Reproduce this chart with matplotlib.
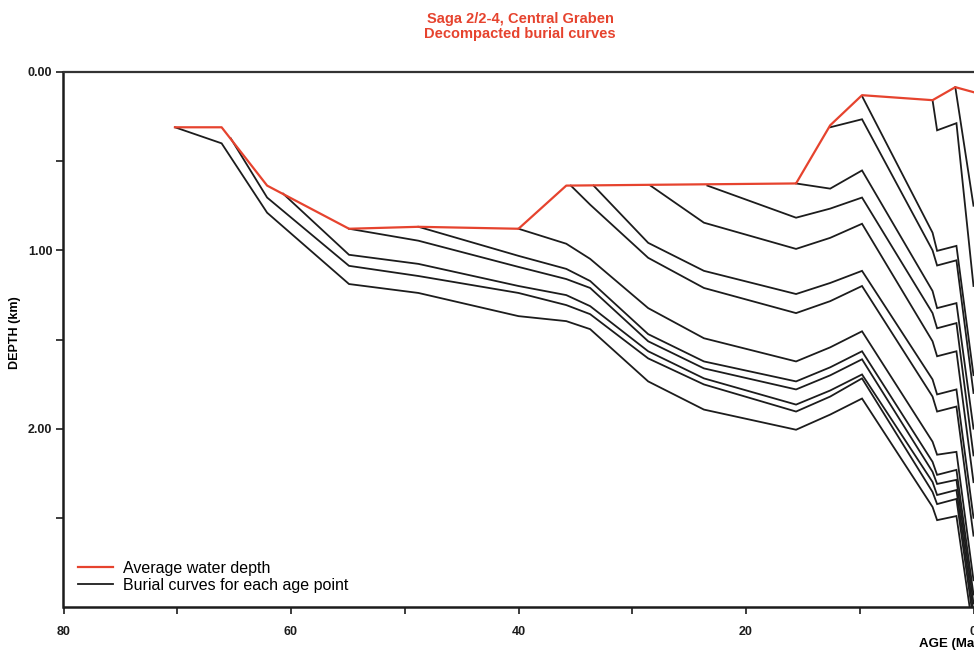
import matplotlib
matplotlib.use('Agg')
import matplotlib.pyplot as plt
from matplotlib.ticker import FixedLocator

plt.rcParams['font.family'] = ['Liberation Sans', 'DejaVu Sans']

RED = '#e6432e'
BLACK = '#1c1c1c'

# Average water depth (age in Ma, depth in km)
wd_age = [70.2, 66.1, 62.1, 54.9, 48.8, 40.0, 35.8, 15.6, 12.6, 9.8, 3.6, 1.6, 0.0]
wd_depth = [0.31, 0.31, 0.637, 0.879, 0.868, 0.879, 0.637, 0.625, 0.299, 0.13, 0.158, 0.085, 0.113]

# Burial curves, one per age point
age_a = [70.2, 66.1, 62.1, 54.9, 48.8, 40.0, 35.8, 33.7, 28.6, 23.7, 15.6, 12.6, 9.8, 3.6, 3.2, 1.5, 0.0]
depth_a = [0.31, 0.40, 0.789, 1.189, 1.239, 1.369, 1.397, 1.442, 1.735, 1.893, 2.006, 1.921, 1.831, 2.439, 2.513, 2.49, 3.15]

age_b = [65.3, 62.1, 54.9, 48.8, 40.0, 35.8, 33.7, 28.6, 23.7, 15.6, 12.6, 9.8, 3.6, 3.2, 1.5, 0.0]
depth_b = [0.372, 0.704, 1.087, 1.144, 1.239, 1.307, 1.358, 1.606, 1.752, 1.904, 1.82, 1.718, 2.355, 2.423, 2.394, 3.08]

age_c = [60.7, 54.9, 48.8, 40.0, 35.8, 33.7, 28.6, 23.7, 15.6, 12.6, 9.8, 3.6, 3.2, 1.5, 0.0]
depth_c = [0.682, 1.025, 1.076, 1.20, 1.251, 1.313, 1.566, 1.718, 1.865, 1.786, 1.696, 2.299, 2.372, 2.344, 3.03]

age_e = [54.9, 48.8, 40.0, 35.8, 33.7, 28.6, 23.7, 15.6, 12.6, 9.8, 3.6, 3.2, 1.5, 0.0]
depth_e = [0.879, 0.946, 1.093, 1.161, 1.211, 1.51, 1.662, 1.78, 1.701, 1.611, 2.242, 2.31, 2.287, 2.98]

age_d = [48.8, 40.0, 35.8, 33.7, 28.6, 23.7, 15.6, 12.6, 9.8, 3.6, 3.2, 1.5, 0.0]
depth_d = [0.868, 1.031, 1.104, 1.172, 1.47, 1.623, 1.735, 1.656, 1.566, 2.186, 2.259, 2.231, 2.93]

age_f = [40.0, 35.8, 33.7, 28.6, 23.7, 15.6, 12.6, 9.8, 3.6, 3.2, 1.5, 0.0]
depth_f = [0.879, 0.963, 1.048, 1.324, 1.493, 1.623, 1.544, 1.454, 2.073, 2.146, 2.13, 2.85]

age_g = [35.4, 33.7, 28.6, 23.7, 15.6, 12.6, 9.8, 3.6, 3.2, 1.5, 0.0]
depth_g = [0.637, 0.744, 1.042, 1.211, 1.352, 1.285, 1.20, 1.82, 1.904, 1.876, 2.6]

age_h = [33.4, 28.6, 23.7, 15.6, 12.6, 9.8, 3.6, 3.2, 1.5, 0.0]
depth_h = [0.637, 0.958, 1.115, 1.245, 1.183, 1.115, 1.724, 1.808, 1.78, 2.5]

age_i = [28.4, 23.7, 15.6, 12.6, 9.8, 3.6, 3.2, 1.5, 0.0]
depth_i = [0.637, 0.845, 0.992, 0.93, 0.851, 1.51, 1.594, 1.566, 2.3]

age_j = [23.4, 15.6, 12.6, 9.8, 3.6, 3.2, 1.5, 0.0]
depth_j = [0.637, 0.817, 0.766, 0.704, 1.352, 1.437, 1.408, 2.15]

age_k = [15.6, 12.6, 9.8, 3.6, 3.2, 1.5, 0.0]
depth_k = [0.625, 0.654, 0.552, 1.228, 1.324, 1.296, 2.0]

age_l = [12.6, 9.8, 3.6, 3.2, 1.5, 0.0]
depth_l = [0.31, 0.265, 1.0, 1.085, 1.056, 1.8]

age_m = [9.8, 3.6, 3.2, 1.5, 0.0]
depth_m = [0.135, 0.901, 1.003, 0.975, 1.7]

age_n = [3.6, 3.2, 1.5, 0.0]
depth_n = [0.158, 0.327, 0.287, 1.2]

age_o = [1.6, 0.0]
depth_o = [0.085, 0.75]

burial = [(age_a, depth_a), (age_b, depth_b), (age_c, depth_c), (age_e, depth_e),
          (age_d, depth_d), (age_f, depth_f), (age_g, depth_g), (age_h, depth_h),
          (age_i, depth_i), (age_j, depth_j), (age_k, depth_k), (age_l, depth_l),
          (age_m, depth_m), (age_n, depth_n), (age_o, depth_o)]

fig = plt.figure(figsize=(9.74, 6.51), dpi=100)
W, H = 974.0, 651.0
# axes runs past the right edge (the original scan is cropped at 0 Ma)
x0, x1 = 63.5, 63.5 + 82 * 11.375
ax = fig.add_axes([x0 / W, (H - 607) / H, (x1 - x0) / W, (607 - 72) / H])

for n, (ag, dp) in enumerate(burial):
    ax.plot(ag, dp, color=BLACK, lw=1.3, solid_joinstyle='miter',
            label='Burial curves for each age point' if n == 0 else None)
ax.plot(wd_age, wd_depth, color=RED, lw=1.6, label='Average water depth', zorder=5)

ax.set_xlim(80, -2)
ax.set_ylim(3.0, 0.0)

ax.xaxis.set_major_locator(FixedLocator([80, 60, 40, 20, 0]))
ax.xaxis.set_minor_locator(FixedLocator([70, 50, 30, 10]))
ax.yaxis.set_major_locator(FixedLocator([0, 1, 2]))
ax.yaxis.set_minor_locator(FixedLocator([0.5, 1.5, 2.5]))
ax.set_yticklabels(['0.00', '1.00', '2.00'])
ax.set_xticklabels(['80', '60', '40', '20', '0'])
ax.tick_params(which='both', direction='out', length=5, width=1.2, labelsize=9, colors=BLACK)
ax.tick_params(axis='x', pad=8.5)
ax.tick_params(axis='y', pad=3)
for lab in ax.get_xticklabels() + ax.get_yticklabels():
    lab.set_fontweight('bold')

for s in ['left', 'bottom']:
    ax.spines[s].set_linewidth(1.8)
    ax.spines[s].set_color(BLACK)
ax.spines['top'].set_linewidth(1.6)
ax.spines['top'].set_color('#333333')
ax.spines['right'].set_visible(False)

fig.text(15 / W, 1 - 333 / H, 'DEPTH (km)', rotation=90, fontsize=9, fontweight='bold',
         ha='center', va='center')
fig.text(919 / W, 1 - 644 / H, 'AGE (Ma)', fontsize=9.5, fontweight='bold',
         ha='left', va='center')

fig.text(520 / W, 1 - 12 / H, 'Saga 2/2-4, Central Graben\nDecompacted burial curves',
         ha='center', va='top', color=RED, fontsize=10.5, fontweight='bold', linespacing=1.05)

h, l = ax.get_legend_handles_labels()
ax.legend(h[::-1], l[::-1], loc='lower left', bbox_to_anchor=(0.0, 0.0), frameon=False,
          fontsize=11.5, handlelength=2.2, handletextpad=0.6, labelspacing=0.1,
          borderaxespad=0.5)

fig.savefig('out.png', dpi=100)
